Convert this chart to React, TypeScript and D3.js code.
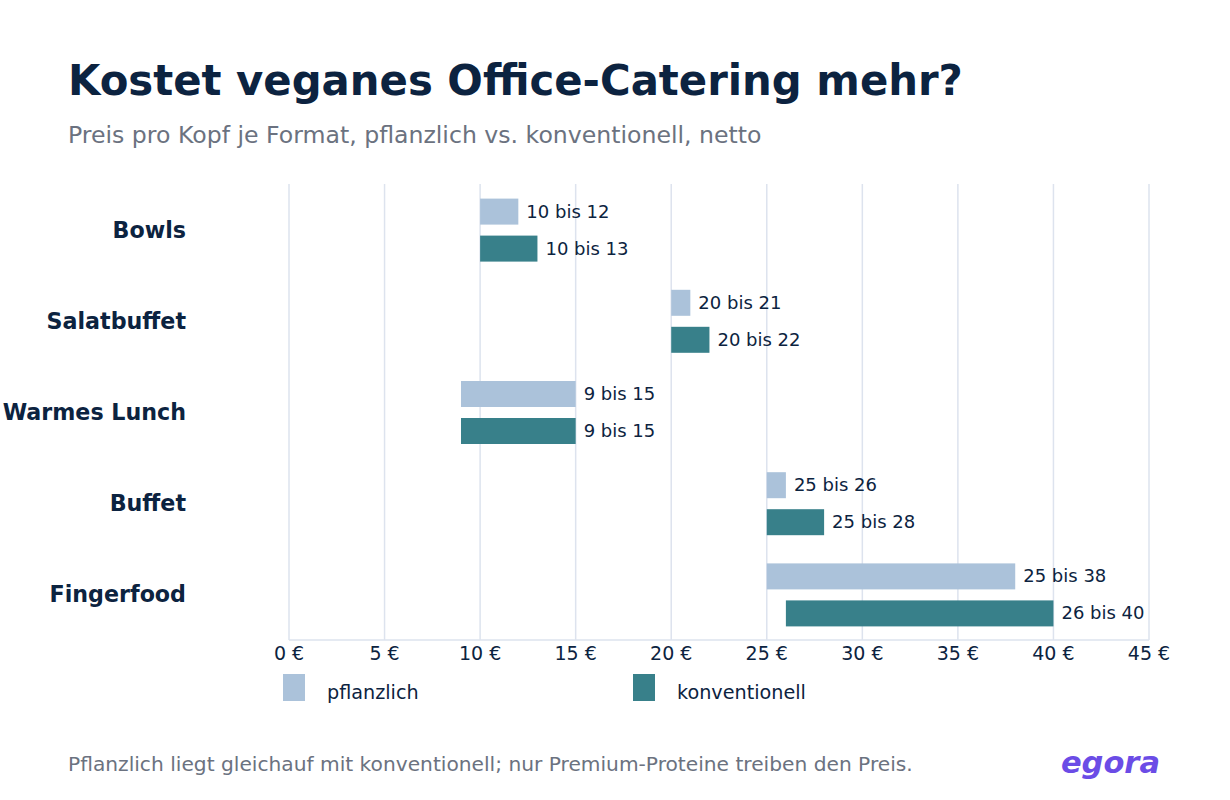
import React from "react";
import * as d3 from "d3";

const categories = ["Bowls", "Salatbuffet", "Warmes Lunch", "Buffet", "Fingerfood"];
const pflanzlich: [number, number][] = [[10, 12], [20, 21], [9, 15], [25, 26], [25, 38]];
const konventionell: [number, number][] = [[10, 13], [20, 22], [9, 15], [25, 28], [26, 40]];
const ticks = [0, 5, 10, 15, 20, 25, 30, 35, 40, 45];

const navy = "#0c2340";
const light = "#abc2da";
const dark = "#38808a";
const font = "DejaVu Sans, sans-serif";

export default function App() {
  const x = d3.scaleLinear().domain([0, 45]).range([289, 1149]);
  const y = d3.scaleBand().domain(categories).range([184, 640]);
  const series = [
    { name: "pflanzlich", data: pflanzlich, color: light, off: -31 },
    { name: "konventionell", data: konventionell, color: dark, off: 6 },
  ];
  return (
    <svg width={1230} height={800} style={{ position: "absolute", left: 0, top: 0 }} fontFamily={font}>
      <rect width={1230} height={800} fill="#fff" />
      <text x={68} y={95} fontSize={41.8} fontWeight="bold" fill={navy}>Kostet veganes Office-Catering mehr?</text>
      <text x={68} y={143} fontSize={23.6} fill="#6b7280">Preis pro Kopf je Format, pflanzlich vs. konventionell, netto</text>
      {ticks.map((t) => (
        <g key={t}>
          <line x1={x(t)} x2={x(t)} y1={184} y2={640} stroke="#dde3ee" strokeWidth={1.5} />
          <text x={x(t)} y={660} fontSize={19} textAnchor="middle" fill={navy}>{t} €</text>
        </g>
      ))}
      <line x1={289} x2={1149} y1={640} y2={640} stroke="#dde3ee" strokeWidth={1.5} />
      {categories.map((c, i) => {
        const cy = y(c)! + y.bandwidth() / 2;
        return (
          <g key={c}>
            <text x={186} y={cy + 8} fontSize={22.2} fontWeight="bold" textAnchor="end" fill={navy}>{c}</text>
            {series.map((s) => {
              const [a, b] = s.data[i];
              return (
                <g key={s.name}>
                  <rect x={x(a)} y={cy + s.off} width={x(b) - x(a)} height={26} fill={s.color} />
                  <text x={x(b) + 8} y={cy + s.off + 19} fontSize={18} fill={navy}>{a} bis {b}</text>
                </g>
              );
            })}
          </g>
        );
      })}
      {series.map((s, i) => (
        <g key={s.name}>
          <rect x={283 + i * 350} y={674} width={22} height={27} fill={s.color} />
          <text x={327 + i * 350} y={699} fontSize={19.2} fill={navy}>{s.name}</text>
        </g>
      ))}
      <text x={68} y={771} fontSize={20.2} fill="#6b7280">Pflanzlich liegt gleichauf mit konventionell; nur Premium-Proteine treiben den Preis.</text>
      <text x={1160} y={773} fontSize={30.5} fontWeight="bold" fontStyle="italic" textAnchor="end" fill="#6b4ce6">egora</text>
    </svg>
  );
}
